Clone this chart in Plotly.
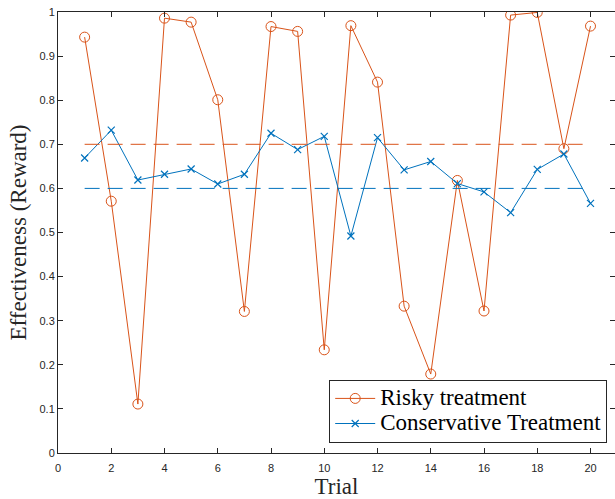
import plotly.graph_objects as go

trials = list(range(1, 21))
risky = [0.943, 0.571, 0.111, 0.986, 0.977, 0.801, 0.321, 0.967, 0.956, 0.234,
         0.969, 0.841, 0.333, 0.179, 0.618, 0.322, 0.993, 0.999, 0.690, 0.968]
conservative = [0.669, 0.732, 0.619, 0.632, 0.644, 0.610, 0.632, 0.725, 0.688, 0.718,
                0.492, 0.715, 0.642, 0.661, 0.611, 0.592, 0.545, 0.643, 0.678, 0.566]
risky_mean = 0.7
conservative_mean = 0.6
series_names = ["Risky treatment", "Conservative Treatment"]
x_ticks = [0, 2, 4, 6, 8, 10, 12, 14, 16, 18, 20]
y_ticks = [0, 0.1, 0.2, 0.3, 0.4, 0.5, 0.6, 0.7, 0.8, 0.9, 1]
y_tick_labels = ["0", "0.1", "0.2", "0.3", "0.4", "0.5", "0.6", "0.7", "0.8", "0.9", "1"]

ORANGE = "#D95319"
BLUE = "#0072BD"
AX = "#262626"
SERIF = "Liberation Serif, Times New Roman, serif"


def legend_label(s):
    return '<span style="font-size:23px">' + s + '</span>'


fig = go.Figure()
fig.add_trace(go.Scatter(
    x=trials, y=risky, mode="lines+markers", name=legend_label(series_names[0]),
    line=dict(color=ORANGE, width=1),
    marker=dict(symbol="circle-open", size=10, color=ORANGE, line=dict(width=1)),
))
fig.add_trace(go.Scatter(
    x=trials, y=conservative, mode="lines+markers", name=legend_label(series_names[1]),
    line=dict(color=BLUE, width=1),
    marker=dict(symbol="x-thin-open", size=7, color=BLUE, line=dict(width=1.2, color=BLUE)),
))
fig.add_trace(go.Scatter(
    x=[trials[0], trials[-1]], y=[risky_mean, risky_mean], mode="lines",
    line=dict(color=ORANGE, width=1, dash="15px,8px"), showlegend=False, hoverinfo="skip",
))
fig.add_trace(go.Scatter(
    x=[trials[0], trials[-1]], y=[conservative_mean, conservative_mean], mode="lines",
    line=dict(color=BLUE, width=1, dash="15px,8px"), showlegend=False, hoverinfo="skip",
))

fig.update_layout(
    width=615, height=499,
    margin=dict(l=58, r=0, t=12, b=46),
    paper_bgcolor="white", plot_bgcolor="white",
    font=dict(family="Liberation Sans, Arial, sans-serif", color=AX, size=11),
    legend=dict(
        x=0.986, y=0.023, xanchor="right", yanchor="bottom",
        bgcolor="white", bordercolor=AX, borderwidth=1,
        font=dict(family=SERIF, size=17, color="black"),
        tracegroupgap=0, itemwidth=40,
    ),
    showlegend=True,
)
fig.update_xaxes(
    range=[0, 20.92], tickvals=x_ticks, ticks="inside", ticklen=5, tickcolor=AX,
    showline=True, linecolor=AX, linewidth=1, mirror="ticks", showgrid=False, zeroline=False,
    tickfont=dict(size=11, color=AX), ticklabelstandoff=5,
    title=dict(text="Trial", font=dict(family=SERIF, size=23, color=AX), standoff=4),
)
fig.update_yaxes(
    range=[0, 1], tickvals=y_ticks, ticktext=y_tick_labels, ticks="inside", ticklen=5, tickcolor=AX,
    showline=True, linecolor=AX, linewidth=1, mirror="ticks", showgrid=False, zeroline=False,
    tickfont=dict(size=11, color=AX),
    title=dict(text="Effectiveness (Reward)", font=dict(family=SERIF, size=23, color=AX), standoff=6),
)

fig.write_html("out.html")
